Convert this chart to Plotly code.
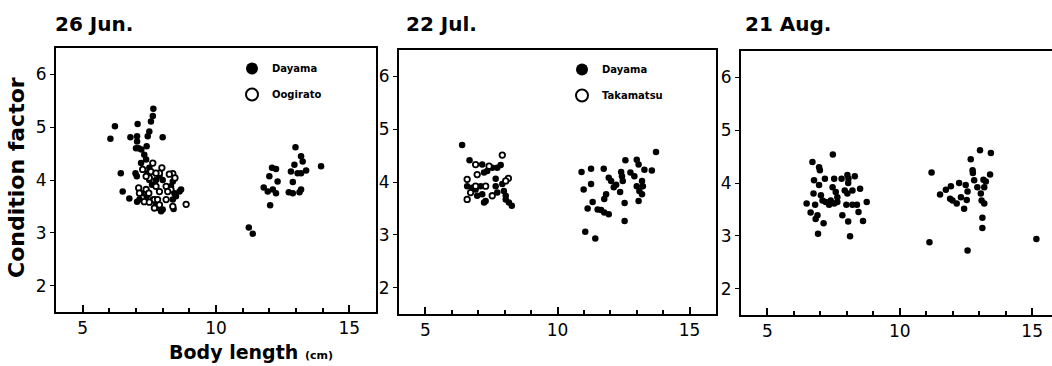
import plotly.graph_objects as go

# ---------------- data (body length cm, condition factor) ----------------
p1_dayama_x = [6.04, 6.21, 6.43, 6.5, 6.75, 6.79, 6.98, 7.03, 7.06, 7.04, 7.04, 7.0, 7.1, 7.2, 7.4, 7.31,
               7.38, 7.19, 7.44, 7.5, 7.56, 7.63, 7.65, 8.0, 7.04, 7.2, 7.4, 7.5, 7.6, 7.75, 7.88, 8.0,
               7.63, 7.75, 7.85, 7.94, 8.0, 8.44, 8.5, 8.63, 8.69, 8.38, 8.41, 8.31, 8.38, 7.5, 7.44, 7.13,
               11.23, 11.38, 11.79, 11.94, 12.0, 12.03, 12.1, 12.25, 12.13, 12.25, 12.31, 12.73, 12.88,
               12.81, 12.94, 12.98, 13.06, 13.19, 13.13, 13.19, 13.19, 13.25, 13.38, 13.94, 12.88]
p1_dayama_y = [4.78, 5.02, 4.13, 3.78, 3.65, 4.81, 4.13, 4.07, 5.06, 4.83, 4.73, 4.6, 4.6, 4.58, 4.64, 4.48,
               4.39, 4.32, 4.83, 4.92, 5.11, 5.21, 5.35, 4.81, 3.59, 3.75, 3.69, 4.0, 3.91, 4.0, 4.07, 4.0,
               3.63, 3.56, 3.47, 3.41, 3.44, 3.75, 3.69, 3.78, 3.82, 3.63, 3.45, 3.88, 3.97, 4.23, 4.13, 3.63,
               3.1, 2.98, 3.86, 3.78, 4.07, 3.52, 4.23, 4.21, 3.82, 3.75, 3.97, 3.77, 3.96,
               4.16, 4.29, 4.62, 4.13, 4.13, 3.77, 3.82, 4.45, 4.35, 4.18, 4.26, 3.75]
p1_oogirato_x = [8.88, 8.38, 8.25, 7.97, 7.88, 7.63, 7.56, 7.5, 7.75, 7.88, 7.1, 7.13, 7.38, 7.48, 7.31,
                 7.5, 7.69, 7.81, 7.69, 7.88, 8.46, 8.31, 8.13, 8.19, 7.25, 7.38, 7.75, 8.13, 8.38]
p1_oogirato_y = [3.54, 4.12, 4.11, 4.23, 4.13, 4.32, 4.16, 4.04, 3.88, 3.78, 3.85, 3.75, 3.82, 3.75, 3.59,
                 3.58, 3.63, 3.63, 3.47, 3.53, 4.04, 3.82, 3.88, 3.78, 4.2, 4.07, 4.13, 3.63, 3.5]

p2_dayama_x = [6.39, 6.67, 6.58, 6.77, 6.9, 7.09, 7.15, 7.22, 7.28, 7.22, 7.34, 7.53, 7.72, 7.85, 7.15,
               7.66, 7.66, 7.72, 7.91, 7.97, 8.04, 8.16, 8.27, 8.04, 6.96,
               10.91, 10.99, 11.05, 11.14, 11.27, 11.27, 11.33, 11.43, 11.52, 11.65, 11.77, 11.94, 11.75,
               11.77, 11.84, 11.94, 12.03, 12.13, 12.22, 12.37, 12.41, 12.44, 12.47, 12.54, 12.54, 12.57,
               12.76, 12.91, 13.0, 13.07, 13.0, 13.1, 13.07, 13.2, 13.23, 13.2, 13.29, 13.57, 13.73]
p2_dayama_y = [4.70, 4.41, 3.92, 3.89, 3.86, 3.92, 3.77, 3.61, 3.64, 4.18, 4.21, 4.27, 4.27, 4.32, 4.33,
               4.06, 3.92, 3.8, 3.96, 3.83, 3.74, 3.61, 3.55, 3.67, 3.74,
               4.19, 3.86, 3.06, 3.5, 4.25, 3.96, 3.62, 2.93, 3.48, 3.47, 3.42, 3.39, 4.25,
               3.68, 3.77, 4.08, 4.02, 3.9, 3.95, 3.81, 4.19, 4.11, 4.02, 3.6, 3.26, 4.41,
               4.18, 4.11, 4.42, 4.33, 3.92, 3.83, 3.64, 4.02, 3.92, 3.77, 4.23, 4.22, 4.57]
p2_takamatsu_x = [7.91, 8.14, 6.58, 6.58, 6.9, 6.96, 6.9, 7.28, 6.71, 8.04, 7.41, 7.53]
p2_takamatsu_y = [4.51, 4.07, 4.05, 3.67, 4.33, 4.14, 3.92, 3.92, 3.8, 4.02, 4.30, 3.74]

p3_dayama_x = [6.48, 6.63, 6.7, 6.74, 6.76, 6.8, 6.82, 6.89, 6.91, 6.95, 6.98, 6.95, 7.02, 7.08, 7.12,
               7.17, 7.2, 7.33, 7.39, 7.47, 7.46, 7.52, 7.52, 7.58, 7.64, 7.64, 7.8, 7.83, 7.92, 8.02,
               7.98, 8.02, 8.06, 8.05, 8.05, 8.12, 8.21, 8.21, 8.38, 8.3, 8.44, 8.5, 8.61, 8.75,
               11.12, 11.2, 11.52, 11.74, 11.93, 11.9, 11.99, 12.15, 12.24, 12.31, 12.43, 12.49, 12.56,
               12.53, 12.56, 12.68, 12.75, 12.76, 12.81, 12.93, 13.03, 13.06, 13.09, 13.12, 13.12, 13.16,
               13.19, 13.19, 13.25, 13.44, 13.41, 15.16]
p3_dayama_y = [3.61, 3.44, 4.4, 3.8, 4.05, 3.59, 3.32, 3.39, 3.04, 4.3, 4.24, 3.96, 3.77, 3.67, 3.24,
               4.08, 3.64, 3.59, 3.67, 4.54, 3.92, 4.08, 3.61, 3.83, 3.73, 3.64, 4.08, 3.39, 3.86, 3.8,
               3.59, 4.15, 4.08, 4.0, 3.27, 2.99, 3.86, 3.59, 3.59, 4.13, 3.45, 3.89, 3.28, 3.64,
               2.88, 4.2, 3.78, 3.87, 3.94, 3.7, 3.67, 3.61, 4.0, 3.73, 3.51, 3.96, 3.84,
               3.68, 2.72, 4.45, 4.24, 4.19, 4.05, 3.92, 4.62, 3.8, 3.67, 3.34, 3.15, 4.06,
               3.92, 3.61, 4.03, 4.57, 4.16, 2.94]

panel_titles = ["26 Jun.", "22 Jul.", "21 Aug."]
x_ticks = [5, 10, 15]
y_ticks = [2, 3, 4, 5, 6]

W, H = 1052, 366
BOLD = "DejaVu Sans"

fig = go.Figure()

filled = dict(color="black", size=6.5, line=dict(width=0))
hollow = dict(color="white", size=5.5, line=dict(color="black", width=1.8), symbol="circle")

fig.add_trace(go.Scatter(x=p1_dayama_x, y=p1_dayama_y, mode="markers", name="Dayama", marker=filled,
                         xaxis="x", yaxis="y", legend="legend", legendgroup="a"))
fig.add_trace(go.Scatter(x=p1_oogirato_x, y=p1_oogirato_y, mode="markers", name="Oogirato", marker=hollow,
                         xaxis="x", yaxis="y", legend="legend", legendgroup="b"))
fig.add_trace(go.Scatter(x=p2_dayama_x, y=p2_dayama_y, mode="markers", name="Dayama", marker=filled,
                         xaxis="x2", yaxis="y2", legend="legend2", legendgroup="c"))
fig.add_trace(go.Scatter(x=p2_takamatsu_x, y=p2_takamatsu_y, mode="markers", name="Takamatsu", marker=hollow,
                         xaxis="x2", yaxis="y2", legend="legend2", legendgroup="d"))
fig.add_trace(go.Scatter(x=p3_dayama_x, y=p3_dayama_y, mode="markers", name="Dayama", marker=filled,
                         xaxis="x3", yaxis="y3", showlegend=False))

def px_x(p):
    return p / W

def px_y(p):
    return 1 - p / H

panels = [
    dict(x0=56, x1=376, y0=48, y1=312, xr=[4, 16], right=True),
    dict(x0=399, x1=716, y0=50, y1=314, xr=[4, 16], right=True),
    dict(x0=741, x1=1052, y0=51, y1=315, xr=[4, 15.75], right=False),
]

tickfont = dict(family="DejaVu Sans", size=17, color="black")
layout = {}
for i, p in enumerate(panels):
    sx = "" if i == 0 else str(i + 1)
    layout["xaxis" + sx] = dict(
        domain=[px_x(p["x0"]), px_x(p["x1"])], range=p["xr"], anchor="y" + sx,
        tickmode="linear", tick0=x_ticks[0], dtick=x_ticks[1] - x_ticks[0],
        ticks="inside", ticklen=7, tickwidth=1.5, tickcolor="black",
        minor=dict(tickmode="linear", tick0=0, dtick=1, ticks="inside", ticklen=4, tickwidth=1.5,
                   tickcolor="black", showgrid=False),
        showline=True, linecolor="black", linewidth=2, mirror=True,
        showgrid=False, zeroline=False, tickfont=tickfont, ticklabelstandoff=0,
    )
    layout["yaxis" + sx] = dict(
        domain=[px_y(p["y1"]), px_y(p["y0"])], range=[1.5, 6.5], anchor="x" + sx,
        tickvals=y_ticks, ticks="outside", ticklen=4, tickwidth=1, tickcolor="black",
        showline=True, linecolor="black", linewidth=2, mirror=p["right"],
        showgrid=False, zeroline=False, tickfont=tickfont, ticklabelstandoff=0,
    )

annotations = []
title_x = [53, 404, 743]
for t, xp in zip(panel_titles, title_x):
    annotations.append(dict(text=t, x=px_x(xp), y=px_y(24), xref="paper", yref="paper",
                            xanchor="left", yanchor="middle", showarrow=False,
                            font=dict(family=BOLD, size=20, color="black", weight="bold")))
annotations.append(dict(text="Condition factor", x=px_x(16), y=px_y(178), xref="paper", yref="paper",
                        xanchor="center", yanchor="middle", textangle=-90, showarrow=False,
                        font=dict(family=BOLD, size=22, color="black", weight="bold")))
annotations.append(dict(text="Body length <span style='font-size:11px'>(cm)</span>", x=px_x(167), y=px_y(352),
                        xref="paper", yref="paper", xanchor="left", yanchor="middle", showarrow=False,
                        font=dict(family=BOLD, size=19, color="black", weight="bold")))

legfont = dict(family=BOLD, size=10, color="black", weight="bold")
fig.update_layout(
    width=W, height=H, margin=dict(l=0, r=0, t=0, b=0),
    paper_bgcolor="white", plot_bgcolor="white",
    annotations=annotations,
    legend=dict(x=px_x(232), y=px_y(54), xanchor="left", yanchor="top", bgcolor="rgba(0,0,0,0)",
                font=legfont, tracegroupgap=7, itemsizing="constant"),
    legend2=dict(x=px_x(562), y=px_y(55), xanchor="left", yanchor="top", bgcolor="rgba(0,0,0,0)",
                 font=legfont, tracegroupgap=7, itemsizing="constant"),
    **layout,
)

fig.write_html("out.html")
